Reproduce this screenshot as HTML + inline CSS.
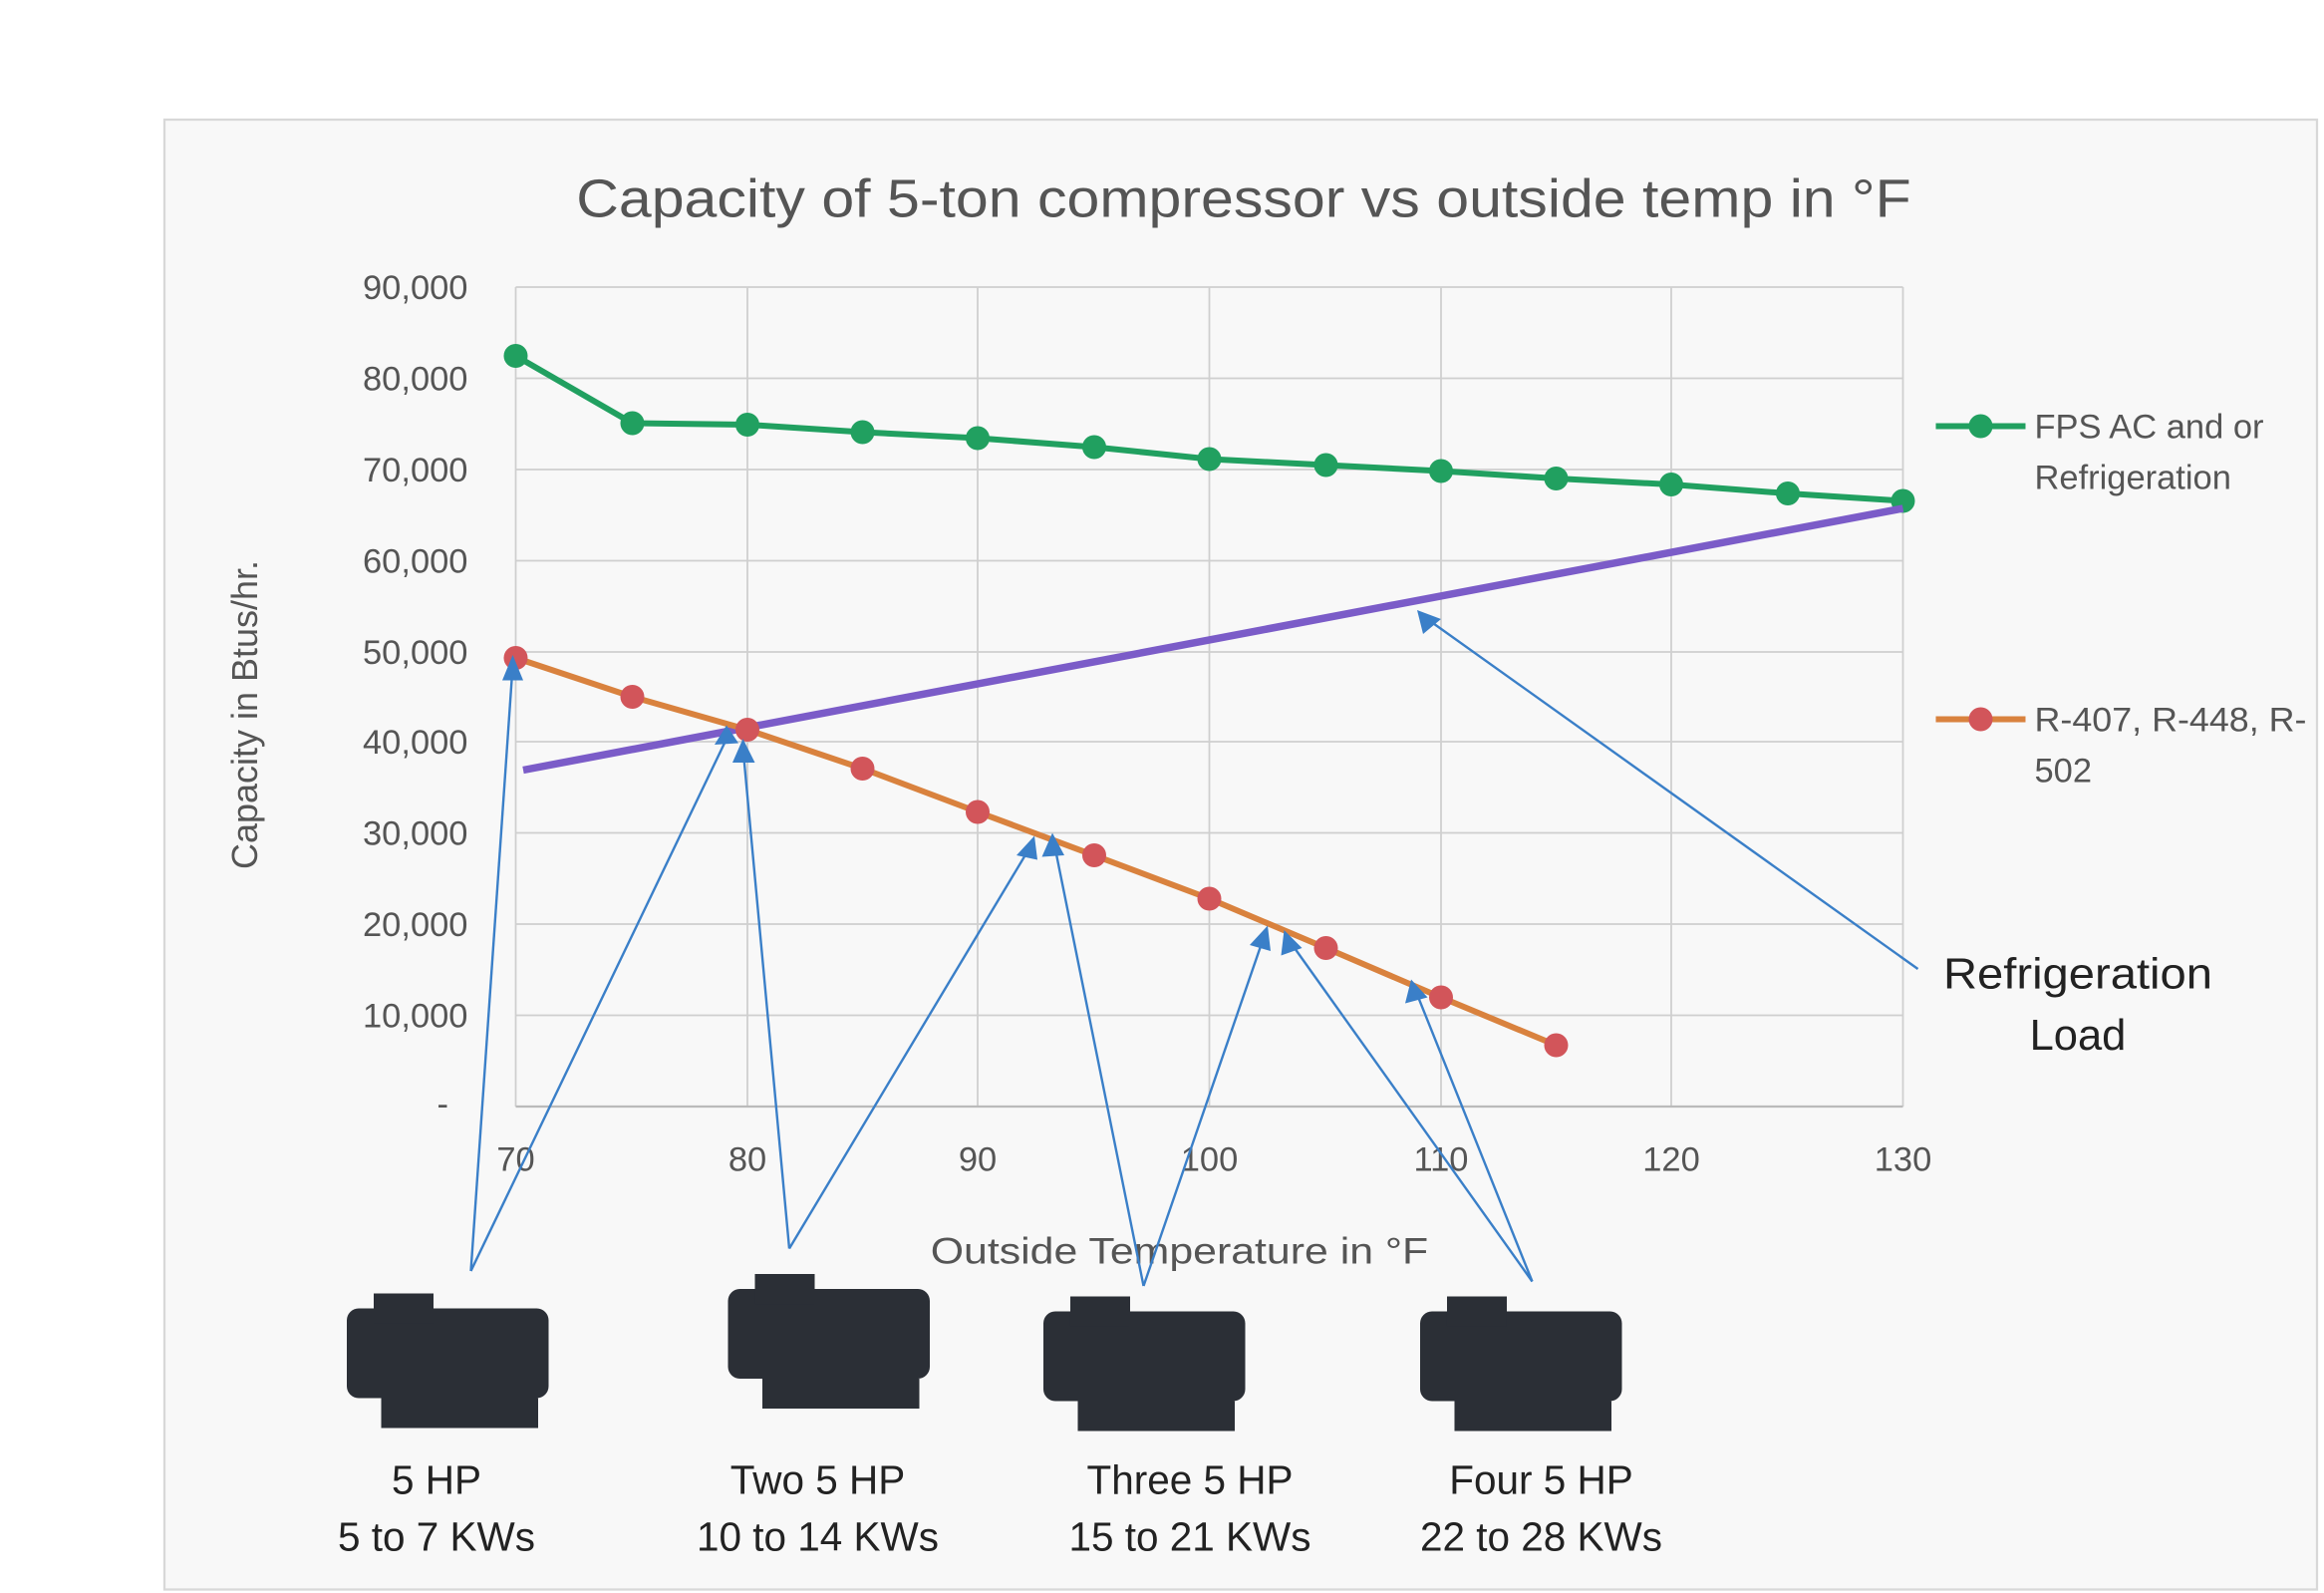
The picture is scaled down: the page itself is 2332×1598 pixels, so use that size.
<!DOCTYPE html>
<html><head><meta charset="utf-8"><style>
html,body{margin:0;padding:0;background:#fff;}
svg{display:block;}
text{font-family:"Liberation Sans",sans-serif;}
</style></head><body>
<svg width="2332" height="1598" viewBox="0 0 1554.67 1065.33" xmlns="http://www.w3.org/2000/svg">
<rect width="1554.67" height="1065.33" fill="#fff"/>
<rect x="110" y="80" width="1440" height="983" fill="#f8f8f8" stroke="#d8d8d8" stroke-width="1.5"/>
<text x="832" y="145" font-size="36" fill="#555" text-anchor="middle" textLength="893" lengthAdjust="spacingAndGlyphs">Capacity of 5-ton compressor vs outside temp in °F</text>
<g stroke="#cfcfcf" stroke-width="1.2">
<line x1="345" y1="192" x2="1273" y2="192"/><line x1="345" y1="253" x2="1273" y2="253"/><line x1="345" y1="314" x2="1273" y2="314"/><line x1="345" y1="375" x2="1273" y2="375"/><line x1="345" y1="436" x2="1273" y2="436"/><line x1="345" y1="496" x2="1273" y2="496"/><line x1="345" y1="557" x2="1273" y2="557"/><line x1="345" y1="618" x2="1273" y2="618"/><line x1="345" y1="679" x2="1273" y2="679"/>
<line x1="345" y1="192" x2="345" y2="740"/><line x1="500" y1="192" x2="500" y2="740"/><line x1="654" y1="192" x2="654" y2="740"/><line x1="809" y1="192" x2="809" y2="740"/><line x1="964" y1="192" x2="964" y2="740"/><line x1="1118" y1="192" x2="1118" y2="740"/><line x1="1273" y1="192" x2="1273" y2="740"/>
</g>
<line x1="345" y1="740" x2="1273" y2="740" stroke="#bbb" stroke-width="1.5"/>
<g font-size="23" fill="#555" text-anchor="end">
<text x="313" y="200">90,000</text><text x="313" y="261">80,000</text><text x="313" y="322">70,000</text><text x="313" y="383">60,000</text><text x="313" y="444">50,000</text><text x="313" y="504">40,000</text><text x="313" y="565">30,000</text><text x="313" y="626">20,000</text><text x="313" y="687">10,000</text><text x="300" y="746">-</text>
</g>
<g font-size="23" fill="#555" text-anchor="middle">
<text x="345" y="783">70</text><text x="500" y="783">80</text><text x="654" y="783">90</text><text x="809" y="783">100</text><text x="964" y="783">110</text><text x="1118" y="783">120</text><text x="1273" y="783">130</text>
<text x="789" y="845" font-size="25" textLength="333" lengthAdjust="spacingAndGlyphs">Outside Temperature in °F</text>
</g>
<text transform="translate(172,478) rotate(-90)" font-size="24" fill="#555" text-anchor="middle">Capacity in Btus/hr.</text>
<polyline fill="none" stroke="#21a060" stroke-width="4" points="345,238 423,283 500,284 577,289 654,293 732,299 809,307 887,311 964,315 1041,320 1118,324 1196,330 1273,335"/>
<g fill="#21a060"><circle cx="345" cy="238" r="8"/><circle cx="423" cy="283" r="8"/><circle cx="500" cy="284" r="8"/><circle cx="577" cy="289" r="8"/><circle cx="654" cy="293" r="8"/><circle cx="732" cy="299" r="8"/><circle cx="809" cy="307" r="8"/><circle cx="887" cy="311" r="8"/><circle cx="964" cy="315" r="8"/><circle cx="1041" cy="320" r="8"/><circle cx="1118" cy="324" r="8"/><circle cx="1196" cy="330" r="8"/><circle cx="1273" cy="335" r="8"/></g>
<line x1="350" y1="515" x2="1273" y2="340" stroke="#7b5cc8" stroke-width="5"/>
<polyline fill="none" stroke="#d9823e" stroke-width="4" points="345,440 423,466 500,488 577,514 654,543 732,572 809,601 887,634 964,667 1041,699"/>
<g fill="#d2555a"><circle cx="345" cy="440" r="8"/><circle cx="423" cy="466" r="8"/><circle cx="500" cy="488" r="8"/><circle cx="577" cy="514" r="8"/><circle cx="654" cy="543" r="8"/><circle cx="732" cy="572" r="8"/><circle cx="809" cy="601" r="8"/><circle cx="887" cy="634" r="8"/><circle cx="964" cy="667" r="8"/><circle cx="1041" cy="699" r="8"/></g>
<line x1="1295" y1="285" x2="1355" y2="285" stroke="#21a060" stroke-width="4"/><circle cx="1325" cy="285" r="8" fill="#21a060"/>
<text x="1361" y="293" font-size="23" fill="#555">FPS AC and or</text><text x="1361" y="327" font-size="23" fill="#555">Refrigeration</text>
<line x1="1295" y1="481" x2="1355" y2="481" stroke="#d9823e" stroke-width="4"/><circle cx="1325" cy="481" r="8" fill="#d2555a"/>
<text x="1361" y="489" font-size="23" fill="#555" textLength="182" lengthAdjust="spacingAndGlyphs">R-407, R-448, R-</text><text x="1361" y="523" font-size="23" fill="#555">502</text>
<text x="1390" y="661" font-size="29" fill="#222" text-anchor="middle" textLength="180" lengthAdjust="spacingAndGlyphs">Refrigeration</text>
<text x="1390" y="702" font-size="29" fill="#222" text-anchor="middle">Load</text>
<g stroke="#3a7fc8" stroke-width="1.6" fill="none">
<line x1="315" y1="850" x2="343" y2="445"/><line x1="315" y1="850" x2="488" y2="490"/>
<line x1="528" y1="835" x2="497" y2="500"/><line x1="528" y1="835" x2="690" y2="565"/>
<line x1="765" y1="860" x2="705" y2="563"/><line x1="765" y1="860" x2="846" y2="625"/>
<line x1="1025" y1="857" x2="861" y2="627"/><line x1="1025" y1="857" x2="946" y2="660"/>
<line x1="1283" y1="648" x2="952" y2="412"/>
</g>
<g fill="#3a7fc8">
<polygon points="343,438 336,455 350,455"/><polygon points="486,485 478,498 494,497"/>
<polygon points="497,494 490,510 505,510"/><polygon points="692,559 680,572 694,575"/>
<polygon points="704,557 697,573 712,572"/><polygon points="848,619 836,632 850,636"/>
<polygon points="859,622 857,639 871,634"/><polygon points="944,655 940,671 955,667"/>
<polygon points="948,408 952,424 964,414"/>
</g>
<g fill="#2b2f36">
<rect x="232" y="875" width="135" height="60" rx="8"/><rect x="250" y="865" width="40" height="20"/><rect x="255" y="935" width="105" height="20"/>
<rect x="487" y="862" width="135" height="60" rx="8"/><rect x="505" y="852" width="40" height="20"/><rect x="510" y="922" width="105" height="20"/>
<rect x="698" y="877" width="135" height="60" rx="8"/><rect x="716" y="867" width="40" height="20"/><rect x="721" y="937" width="105" height="20"/>
<rect x="950" y="877" width="135" height="60" rx="8"/><rect x="968" y="867" width="40" height="20"/><rect x="973" y="937" width="105" height="20"/>
</g>
<g font-size="27" fill="#222" text-anchor="middle">
<text x="292" y="999">5 HP</text><text x="292" y="1037">5 to 7 KWs</text>
<text x="547" y="999">Two 5 HP</text><text x="547" y="1037">10 to 14 KWs</text>
<text x="796" y="999">Three 5 HP</text><text x="796" y="1037">15 to 21 KWs</text>
<text x="1031" y="999">Four 5 HP</text><text x="1031" y="1037">22 to 28 KWs</text>
</g>
</svg>
</body></html>
